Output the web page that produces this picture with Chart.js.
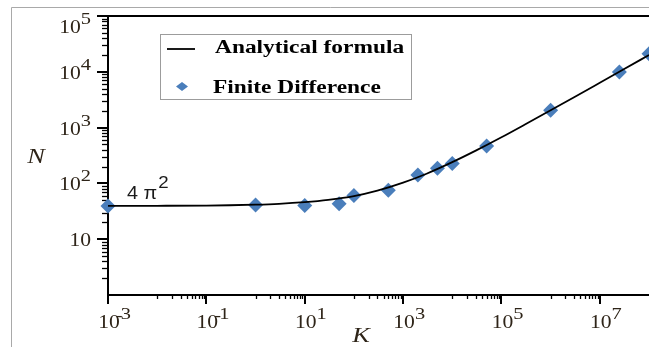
<!DOCTYPE html>
<html>
<head>
<meta charset="utf-8">
<script src="https://cdn.jsdelivr.net/npm/chart.js@4.4.0/dist/chart.umd.min.js"></script>
<style>
  html, body { margin: 0; padding: 0; background: #fff; }
</style>
</head>
<body>
<canvas id="nChart" width="649" height="347"></canvas>
<script>
// Analytical curve N(K), read at half-decade steps
const curveK = [1e-3, 1e-2, 1e-1, 0.3, 1, 3, 10, 30, 1e2, 3e2, 1e3, 3e3, 1e4, 3e4, 1e5, 3e5, 1e6, 3e6, 1e7, 3e7, 1e8];
const curveN = [39.5, 39.7, 40.1, 40.6, 41.5, 43, 46, 50.5, 59, 74, 103, 149, 240, 386, 670, 1135, 2040, 3500, 6360, 10990, 20040];

// Finite difference results
const fdK = [1e-3, 1, 10, 50, 100, 500, 2000, 5000, 1e4, 5e4, 1e6, 2.5e7, 1e8];
const fdN = [39.5, 41, 40, 43, 61, 75, 141, 186, 228, 470, 2050, 9900, 21000];

// Labelled decades on each axis
const xMajorExp = [-3, -1, 1, 3, 5, 7];
const xMinorExp = [-2, 0, 2, 4, 6];
const yMajorExp = [1, 2, 3, 4, 5];
const yMinorExp = [0, 1, 2, 3, 4];

const serif = '"Liberation Serif", "Times New Roman", serif';
const labelColor = '#2e2418';

// draws text squeezed/stretched horizontally by sx, returns drawn width
function stretchText(c, text, x, y, font, sx, align) {
  c.save();
  c.font = font;
  c.textAlign = 'left';
  c.textBaseline = 'alphabetic';
  const w = c.measureText(text).width * sx;
  let left = x;
  if (align === 'right') left = x - w;
  else if (align === 'center') left = x - w / 2;
  c.translate(left, y);
  c.scale(sx, 1);
  c.fillText(text, 0, 0);
  c.restore();
  return w;
}

function textWidth(c, text, font, sx) {
  c.save();
  c.font = font;
  const w = c.measureText(text).width * sx;
  c.restore();
  return w;
}

const baseFont = '18px ' + serif;
const expFont = '17px ' + serif;
const sxTick = 1.2;

const axisDecor = {
  id: 'axisDecor',
  beforeDraw(chart) {
    const c = chart.ctx;
    c.save();
    c.fillStyle = '#fff';
    c.fillRect(0, 0, chart.width, chart.height);
    // outer frame
    c.strokeStyle = '#a9a9a9';
    c.lineWidth = 1;
    c.beginPath();
    c.moveTo(11.5, chart.height);
    c.lineTo(11.5, 7.5);
    c.lineTo(chart.width, 7.5);
    c.stroke();
    c.restore();
  },
  beforeDatasetsDraw(chart) {
    const c = chart.ctx;
    const xs = chart.scales.x, ys = chart.scales.y;
    const area = chart.chartArea;
    c.save();
    c.strokeStyle = '#000';

    // top frame line
    c.lineWidth = 2;
    c.beginPath();
    c.moveTo(area.left, area.top);
    c.lineTo(chart.width, area.top);
    c.stroke();

    // y ticks point outwards to the left
    c.lineWidth = 2;
    yMajorExp.forEach(e => {
      const py = Math.round(ys.getPixelForValue(Math.pow(10, e)));
      c.beginPath();
      c.moveTo(area.left - 11, py);
      c.lineTo(area.left, py);
      c.stroke();
    });
    c.lineWidth = 1.3;
    yMinorExp.forEach(e => {
      for (let m = 2; m <= 9; m++) {
        const py = Math.round(ys.getPixelForValue(m * Math.pow(10, e))) + 0.5;
        c.beginPath();
        c.moveTo(area.left - 6, py);
        c.lineTo(area.left, py);
        c.stroke();
      }
    });

    // x ticks point down
    c.lineWidth = 2;
    xMajorExp.forEach(e => {
      const px = Math.round(xs.getPixelForValue(Math.pow(10, e)));
      c.beginPath();
      c.moveTo(px, area.bottom);
      c.lineTo(px, area.bottom + 9);
      c.stroke();
    });
    c.lineWidth = 1.3;
    xMinorExp.forEach(e => {
      for (let m = 1; m <= 9; m++) {
        const px = Math.round(xs.getPixelForValue(m * Math.pow(10, e))) + 0.5;
        c.beginPath();
        c.moveTo(px, area.bottom);
        c.lineTo(px, area.bottom + 4);
        c.stroke();
      }
    });
    c.restore();
  },
  afterDraw(chart) {
    const c = chart.ctx;
    const xs = chart.scales.x, ys = chart.scales.y;
    c.save();
    c.fillStyle = labelColor;

    // y labels, right aligned
    const yRight = 91;
    yMajorExp.forEach(e => {
      const py = ys.getPixelForValue(Math.pow(10, e));
      const base = py + 7 + (e === 5 ? 10 : 0);
      if (e === 1) {
        stretchText(c, '10', yRight, base, baseFont, sxTick, 'right');
        return;
      }
      const ew = textWidth(c, String(e), expFont, sxTick);
      const bw = textWidth(c, '10', baseFont, sxTick);
      const left = yRight - ew - bw;
      stretchText(c, '10', left, base, baseFont, sxTick, 'left');
      stretchText(c, String(e), left + bw, base - 9, expFont, sxTick, 'left');
    });

    // x labels, "10" centred on the tick
    xMajorExp.forEach(e => {
      const px = xs.getPixelForValue(Math.pow(10, e)) + 1;
      const bw = textWidth(c, '10', baseFont, sxTick);
      const left = px - bw / 2;
      stretchText(c, '10', left, 328, baseFont, sxTick, 'left');
      if (e < 0) {
        stretchText(c, '-', left + bw - 4, 321, expFont, sxTick, 'left');
        stretchText(c, String(-e), left + bw + 1, 319, expFont, sxTick, 'left');
      } else {
        stretchText(c, String(e), left + bw, 319, expFont, sxTick, 'left');
      }
    });

    // axis titles
    stretchText(c, 'N', 36, 163, 'italic 22px ' + serif, 1.2, 'center');
    stretchText(c, 'K', 361, 342, 'italic 22px ' + serif, 1.2, 'center');

    // low-K limit
    c.fillStyle = '#1a1a1a';
    const sans = '"Liberation Sans", Arial, sans-serif';
    const w4 = stretchText(c, '4 \u03c0', 127, 199, '18px ' + sans, 1.1, 'left');
    stretchText(c, '2', 127 + w4 + 1, 188, '17px ' + sans, 1.1, 'left');
    c.restore();
  }
};

const legendBox = {
  id: 'legendBox',
  afterDraw(chart) {
    const c = chart.ctx;
    const [curve, fd] = chart.data.datasets;
    c.save();
    c.fillStyle = '#fff';
    c.fillRect(160.5, 34.5, 251, 65);
    c.strokeStyle = '#9c9c9c';
    c.lineWidth = 1;
    c.strokeRect(160.5, 34.5, 251, 65);

    c.strokeStyle = curve.borderColor;
    c.lineWidth = curve.borderWidth;
    c.beginPath();
    c.moveTo(167, 49);
    c.lineTo(195, 49);
    c.stroke();

    c.fillStyle = fd.backgroundColor;
    c.beginPath();
    c.moveTo(176, 86.5);
    c.lineTo(182, 82);
    c.lineTo(188, 86.5);
    c.lineTo(182, 91);
    c.closePath();
    c.fill();

    c.fillStyle = '#000';
    const lf = 'bold 18px ' + serif;
    stretchText(c, curve.label, 215, 53, lf, 1.3, 'left');
    stretchText(c, fd.label, 213, 93, lf, 1.3, 'left');
    c.restore();
  }
};

const ctx = document.getElementById('nChart').getContext('2d');
new Chart(ctx, {
  type: 'line',
  data: {
    datasets: [
      {
        label: 'Analytical formula',
        data: curveK.map((k, i) => ({ x: k, y: curveN[i] })),
        borderColor: '#000',
        borderWidth: 1.8,
        pointRadius: 0,
        cubicInterpolationMode: 'monotone',
        fill: false,
        clip: false
      },
      {
        label: 'Finite Difference',
        data: fdK.map((k, i) => ({ x: k, y: fdN[i] })),
        showLine: false,
        pointStyle: 'rectRot',
        pointRadius: 7.5,
        backgroundColor: '#4a7ebb',
        borderColor: '#4a7ebb',
        borderWidth: 0,
        clip: false
      }
    ]
  },
  options: {
    responsive: false,
    animation: false,
    events: [],
    layout: { autoPadding: false, padding: { top: 16, right: 0, bottom: 0, left: 0 } },
    plugins: {
      legend: { display: false },
      tooltip: { enabled: false }
    },
    scales: {
      x: {
        type: 'logarithmic',
        position: 'bottom',
        min: 1e-3,
        max: 1e8,
        grid: { display: false },
        ticks: { display: false },
        border: { color: '#000', width: 2 },
        afterFit(scale) { scale.height = 52; }
      },
      y: {
        type: 'logarithmic',
        position: 'left',
        min: 1,
        max: 1e5,
        grid: { display: false },
        ticks: { display: false },
        border: { color: '#000', width: 2 },
        afterFit(scale) { scale.width = 108; }
      }
    }
  },
  plugins: [axisDecor, legendBox]
});
</script>
</body>
</html>
